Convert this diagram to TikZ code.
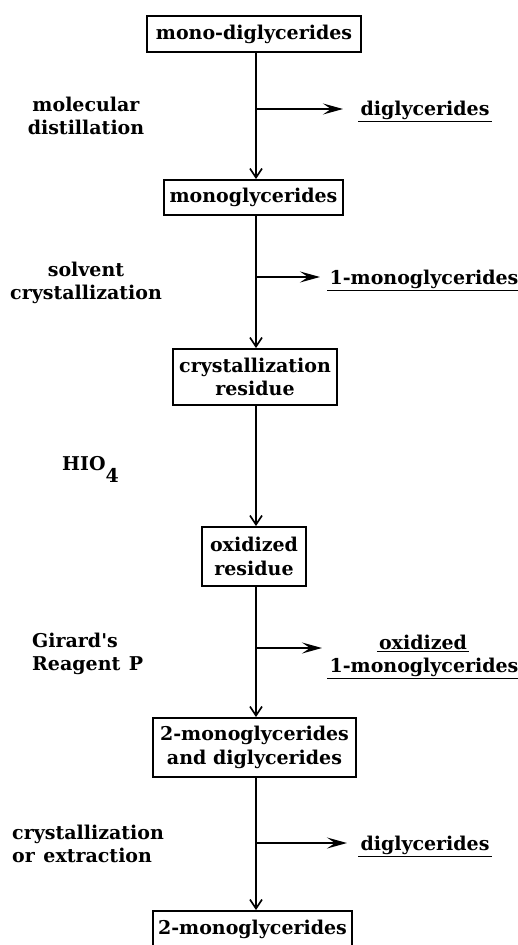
\documentclass[tikz,border=0pt]{standalone}
\usepackage{fontspec}
\setmainfont{DejaVu Serif}[Ligatures=TeXOff]
\usetikzlibrary{arrows.meta}
\begin{document}
\begin{tikzpicture}[x=1pt,y=-1pt,
  every node/.style={font=\fontsize{19}{23.5}\selectfont\bfseries, inner sep=2pt},
  box/.style={draw, line width=1.8pt, align=center, inner sep=1pt},
  lbl/.style={align=center},
  flow/.style={line width=1.7pt, -{Straight Barb[length=9pt,width=12pt,line width=1.7pt]}},
  side/.style={line width=1.7pt, -{Stealth[length=20pt,width=11pt,inset=8pt]}},
  uline/.style={line width=1.4pt}]
\useasboundingbox (0,0) rectangle (518,945);
\coordinate (ax) at (256,0);
% boxes
\node[box, minimum width=214pt, minimum height=36pt] (b1) at (254,34) {mono-diglycerides};
\node[box, minimum width=179pt, minimum height=35pt] (b2) at (253.5,197.5) {monoglycerides};
\node[box, minimum width=164pt, minimum height=56pt] (b3) at (255,377) {crystallization\\residue};
\node[box, minimum width=104pt, minimum height=59pt] (b4) at (254,556.5) {oxidized\\residue};
\node[box, minimum width=203pt, minimum height=59pt] (b5) at (254.5,747.5) {2-monoglycerides\\and diglycerides};
\node[box, minimum width=199pt, minimum height=36pt] (b6) at (252.5,929) {2-monoglycerides};
% main flow
\draw[flow] (b1.south -| ax) -- (b2.north -| ax);
\draw[flow] (b2.south -| ax) -- (b3.north -| ax);
\draw[flow] (b3.south -| ax) -- (b4.north -| ax);
\draw[flow] (b4.south -| ax) -- (b5.north -| ax);
\draw[flow] (b5.south -| ax) -- (b6.north -| ax);
% side streams
\coordinate (j1) at (256,109); \coordinate (t1) at (343,109);
\coordinate (j2) at (256,277); \coordinate (t2) at (320,277);
\coordinate (j4) at (256,648); \coordinate (t4) at (322,648);
\coordinate (j5) at (256,843); \coordinate (t5) at (347,843);
\draw[side] (j1) -- (t1);
\draw[side] (j2) -- (t2);
\draw[side] (j4) -- (t4);
\draw[side] (j5) -- (t5);
% products
\node (o1) at (425,110) {diglycerides};
\draw[uline] (o1.south west) -- (o1.south east);
\node (o2) at (424,279) {1-monoglycerides};
\draw[uline] (o2.south west) -- (o2.south east);
\node (o4a) at (423,642) {oxidized};
\draw[uline] (o4a.south west) -- (o4a.south east);
\node (o4b) at (424,667) {1-monoglycerides};
\draw[uline] (o4b.south west) -- (o4b.south east);
\node (o5) at (425,845) {diglycerides};
\draw[uline] (o5.south west) -- (o5.south east);
% reagents
\node[lbl] (l1) at (86,116) {molecular\\distillation};
\node[lbl] (l2) at (86,283) {solvent\\crystallization};
\node[anchor=base west] (l3) at (60,470) {HIO\raisebox{-12pt}{4}};
\node[align=left, anchor=west] (l4) at (30,654) {Girard's\\Reagent\hspace{0.45em}P};
\node[align=left, anchor=west] (l5) at (10,844) {crystallization\\or\hspace{0.45em}extraction};
\end{tikzpicture}
\end{document}
